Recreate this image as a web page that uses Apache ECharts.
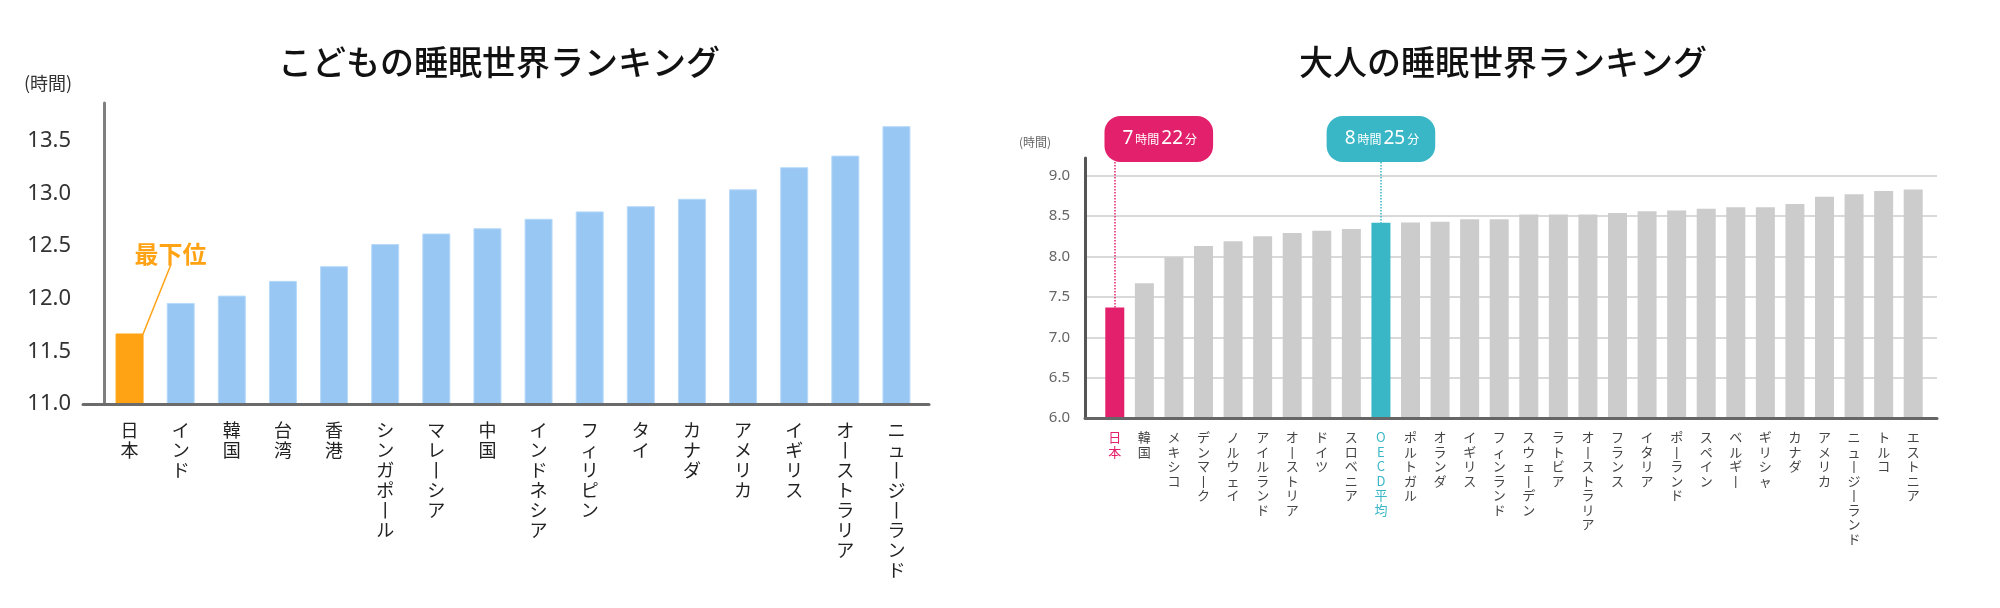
<!DOCTYPE html>
<html>
<head>
<meta charset="utf-8">
<script src="https://cdn.jsdelivr.net/npm/echarts@6/dist/echarts.min.js"></script>
<style>
  html, body { margin: 0; padding: 0; background: #fff; }
  #chart { width: 2000px; height: 608px; }
</style>
</head>
<body>
<div id="chart"></div>
<script>
// こどもの睡眠世界ランキング
const childCountries = ['日本', 'インド', '韓国', '台湾', '香港', 'シンガポール', 'マレーシア', '中国',
  'インドネシア', 'フィリピン', 'タイ', 'カナダ', 'アメリカ', 'イギリス', 'オーストラリア', 'ニュージーランド']
const childHours = [11.67, 11.96, 12.03, 12.17, 12.31, 12.52, 12.62, 12.67,
  12.76, 12.83, 12.88, 12.95, 13.04, 13.25, 13.36, 13.64]
const childNote = '最下位'

// 大人の睡眠世界ランキング
const adultCountries = ['日本', '韓国', 'メキシコ', 'デンマーク', 'ノルウェイ', 'アイルランド', 'オーストリア',
  'ドイツ', 'スロベニア', 'OECD平均', 'ポルトガル', 'オランダ', 'イギリス', 'フィンランド', 'スウェーデン',
  'ラトビア', 'オーストラリア', 'フランス', 'イタリア', 'ポーランド', 'スペイン', 'ベルギー', 'ギリシャ',
  'カナダ', 'アメリカ', 'ニュージーランド', 'トルコ', 'エストニア']
const adultHours = [7.367, 7.67, 7.99, 8.13, 8.19, 8.25, 8.29, 8.32, 8.34, 8.417, 8.42, 8.43, 8.46, 8.46,
  8.52, 8.52, 8.52, 8.54, 8.56, 8.57, 8.59, 8.61, 8.61, 8.65, 8.74, 8.77, 8.81, 8.83]
const adultCallouts = [0, 9] // 日本, OECD平均

const CJK = '"Noto Sans CJK JP", "Noto Sans", sans-serif'
const NUM = '"Noto Sans", "Noto Sans CJK JP", sans-serif'
const BLUE = '#99c7f4'
const ORANGE = '#ffa315'
const PINK = '#e3206b'
const TEAL = '#3ab7c7'
const GREY = '#cccccc'
const calloutColors = { 0: PINK, 9: TEAL }

// vertical stacked label, ー turned upright
const vertical = (s) => s.split('').map((c) => (c === 'ー' ? '丨' : c)).join('\n')
const hm = (v) => {
  const h = Math.floor(v)
  return { h, m: Math.round((v - h) * 60) }
}

// adult scale shared by the frame grid and the (taller) bar grid
const adultMin = 6, adultMax = 9.22
const adultTop = 158, adultBottom = 190
const pxPerHour = (608 - adultBottom - adultTop) / (adultMax - adultMin)
const barGridTop = 100
const adultBarMax = adultMin + (608 - adultBottom - barGridTop) / pxPerHour

const chart = echarts.init(document.getElementById('chart'))

chart.setOption({
  backgroundColor: '#fff',
  animation: false,
  textStyle: { fontFamily: CJK },
  graphic: [
    { type: 'text', x: 499, y: 62, style: { text: 'こどもの睡眠世界ランキング', align: 'center', verticalAlign: 'middle',
      font: '500 34px ' + CJK, fill: '#111' } },
    { type: 'text', x: 1503, y: 62, style: { text: '大人の睡眠世界ランキング', align: 'center', verticalAlign: 'middle',
      font: '500 34px ' + CJK, fill: '#111' } },
    { type: 'text', x: 24, y: 83, style: { text: '(時間)', verticalAlign: 'middle', font: '18px ' + CJK, fill: '#333' } },
    { type: 'text', x: 1019, y: 142, style: { text: '(時間)', verticalAlign: 'middle', font: '12px ' + CJK, fill: '#666' } },
  ],
  grid: [
    { left: 104, top: 103, width: 818, height: 301 },
    { left: 83, top: 103, width: 846, height: 301 },
    { left: 1100, top: barGridTop, width: 828, bottom: adultBottom },
    { left: 1085, top: adultTop, width: 852, bottom: adultBottom },
  ],
  xAxis: [
    {
      type: 'category', gridIndex: 0, data: childCountries,
      axisLine: { show: false }, axisTick: { show: false },
      axisLabel: { interval: 0, formatter: vertical, fontSize: 18, lineHeight: 20, color: '#222', margin: 16, fontFamily: CJK },
    },
    {
      type: 'value', gridIndex: 1, min: 0, max: 1, z: 5,
      axisLine: { show: true, lineStyle: { color: '#6b6b6b', width: 3 } },
      axisTick: { show: false }, axisLabel: { show: false }, splitLine: { show: false },
    },
    {
      type: 'category', gridIndex: 2,
      data: adultCountries.map((c, i) => ({ value: c, textStyle: { color: calloutColors[i] || '#444' } })),
      axisLine: { show: false }, axisTick: { show: false },
      axisLabel: { interval: 0, formatter: vertical, fontSize: 13, lineHeight: 14.5, color: '#444', margin: 12, fontFamily: CJK },
    },
    {
      type: 'value', gridIndex: 3, min: 0, max: 1, z: 5,
      axisLine: { show: true, lineStyle: { color: '#666', width: 3 } },
      axisTick: { show: false }, axisLabel: { show: false }, splitLine: { show: false },
    },
  ],
  yAxis: [
    {
      type: 'value', gridIndex: 0, min: 11, max: 13.86, interval: 0.5,
      axisLine: { show: true, lineStyle: { color: '#7f7f7f', width: 3 } },
      axisTick: { show: false }, splitLine: { show: false },
      axisLabel: { showMaxLabel: false, formatter: (v) => v.toFixed(1), fontSize: 22, color: '#333', margin: 33,
        fontFamily: NUM, padding: [0, 0, 10, 0] },
    },
    { type: 'value', gridIndex: 1, min: 0, max: 1, show: false },
    { type: 'value', gridIndex: 2, min: adultMin, max: adultBarMax, show: false },
    {
      type: 'value', gridIndex: 3, min: adultMin, max: adultMax, interval: 0.5,
      axisLine: { show: true, lineStyle: { color: '#555', width: 3 } },
      axisTick: { show: false },
      splitLine: { show: true, showMaxLine: false, lineStyle: { color: '#d9d9d9', width: 2 } },
      axisLabel: { showMaxLabel: false, formatter: (v) => v.toFixed(1), fontSize: 15, color: '#666', margin: 15, fontFamily: NUM },
    },
  ],
  series: [
    {
      type: 'bar', xAxisIndex: 0, yAxisIndex: 0, barWidth: 28,
      itemStyle: { color: BLUE, borderColor: '#b8daf8', borderWidth: 1 },
      data: childHours.map((v, i) => i === 0
        ? {
            value: v,
            itemStyle: { color: ORANGE, borderColor: ORANGE },
            label: {
              show: true, position: 'top', formatter: childNote,
              color: ORANGE, fontSize: 24, fontWeight: 'bold', fontFamily: CJK,
              padding: [0, 0, 14, 30],
            },
            labelLine: { show: true, length2: 0, lineStyle: { color: ORANGE, width: 1.5 } },
          }
        : v),
      labelLayout: (p) => p.dataIndex === 0
        ? { x: p.rect.x + p.rect.width / 2 + 26, y: p.rect.y - 80, align: 'center', verticalAlign: 'middle' }
        : {},
    },
    {
      type: 'bar', xAxisIndex: 2, yAxisIndex: 2, barWidth: 19,
      itemStyle: { color: GREY },
      data: adultHours.map((v, i) => calloutColors[i] ? { value: v, itemStyle: { color: calloutColors[i] } } : v),
      markLine: {
        silent: true, symbol: 'none', label: { show: false },
        data: adultCallouts.map((i) => [
          { coord: [adultCountries[i], 9.17], lineStyle: { color: calloutColors[i], type: 'dotted', width: 1.5 } },
          { coord: [adultCountries[i], adultHours[i]] },
        ]),
      },
      markPoint: {
        silent: true, symbol: 'rect', symbolSize: 1,
        data: adultCallouts.map((i) => {
          const t = hm(adultHours[i])
          return {
            coord: [adultCountries[i], 9.456],
            symbolOffset: [i === 0 ? 44 : 0, 0],
            itemStyle: { color: 'transparent' },
            label: {
              show: true, position: 'inside',
              formatter: `{n|${t.h}}{u|時間}{n|${t.m}}{u|分}`,
              backgroundColor: calloutColors[i], borderRadius: 16, padding: [11, 16],
              rich: {
                n: { color: '#fff', fontSize: 19, fontFamily: NUM, lineHeight: 24, padding: [0, 2] },
                u: { color: '#fff', fontSize: 12, fontFamily: CJK, lineHeight: 24 },
              },
            },
          }
        }),
      },
    },
  ],
})
</script>
</body>
</html>
